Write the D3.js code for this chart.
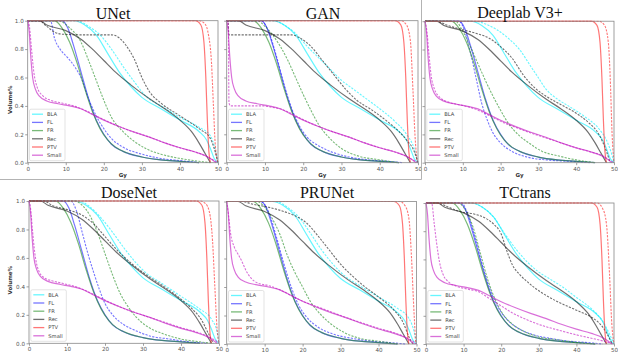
<!DOCTYPE html>
<html>
<head>
<meta charset="utf-8">
<script src="https://cdn.jsdelivr.net/npm/d3@7"></script>
<style>
  body { margin: 0; background: #fff; }
  svg { display: block; }
</style>
</head>
<body>
<script>
// DVH curves: [dose Gy, volume fraction]
const models = ["UNet", "GAN", "Deeplab V3+", "DoseNet", "PRUNet", "TCtrans"];
const structures = ["BLA", "FL", "FR", "Rec", "PTV", "Small"];
const xTicks = [0, 10, 20, 30, 40, 50];
const yTicks = [0.0, 0.2, 0.4, 0.6, 0.8, 1.0];

// ground truth (solid), same order as structures
const gtBLA = [[0,1],[12,1],[15,0.97],[18,0.9],[21,0.77],[24,0.64],[27,0.54],[30,0.46],[35,0.38],[40,0.3],[45,0.22],[47,0.16],[48,0.1],[49,0.03],[50,0]];
const gtFL = [[0,1],[9,1],[10.5,0.95],[12,0.83],[14,0.64],[16,0.45],[18,0.3],[20,0.2],[22,0.13],[25,0.08],[30,0.04],[35,0.02],[40,0.01],[45,0]];
const gtFR = [[0,1],[7,1],[9,0.95],[11,0.85],[13,0.7],[15,0.52],[17,0.36],[19,0.24],[21,0.16],[23,0.11],[26,0.07],[30,0.04],[35,0.02],[40,0.01],[45,0]];
const gtRec = [[0,1],[3,1],[5,0.97],[10,0.93],[14,0.87],[17,0.8],[20,0.72],[23,0.64],[27,0.55],[32,0.45],[36,0.38],[40,0.3],[43,0.22],[45,0.14],[46.5,0.07],[48,0]];
const gtPTV = [[0,1],[44,1],[45.5,0.97],[46.3,0.85],[46.8,0.6],[47.2,0.3],[47.6,0.08],[48,0]];
const gtSmall = [[0,1],[0.4,0.92],[0.8,0.75],[1.3,0.6],[2,0.52],[3,0.47],[5,0.435],[8,0.415],[11,0.4],[14,0.38],[17,0.34],[20,0.3],[24,0.255],[28,0.215],[32,0.18],[36,0.14],[40,0.105],[44,0.075],[47,0.045],[48.5,0.02],[49.5,0]];
const truth = [gtBLA, gtFL, gtFR, gtRec, gtPTV, gtSmall];

// predictions (dashed), one list per model, same order as structures
const predUNet = [
  [[0,1],[13,1],[16,0.96],[19,0.9],[22,0.8],[25,0.68],[28,0.57],[31,0.47],[35,0.4],[40,0.32],[45,0.25],[48,0.19],[49,0.12],[50,0]],
  [[0,1],[6,1],[7,0.88],[8.5,0.8],[10.5,0.74],[12.5,0.67],[14,0.6],[16,0.45],[18,0.33],[20,0.24],[22,0.17],[25,0.11],[30,0.06],[35,0.03],[40,0.015],[45,0]],
  [[0,1],[8,1],[11,0.95],[14,0.85],[16,0.72],[18,0.58],[20,0.44],[22,0.32],[25,0.22],[28,0.15],[31,0.1],[35,0.06],[40,0.03],[45,0.01],[48,0]],
  [[0,1],[3,1],[5,0.96],[7,0.92],[9,0.905],[15,0.9],[22,0.9],[24,0.88],[26,0.82],[28,0.73],[30,0.6],[32,0.5],[35,0.42],[40,0.33],[45,0.24],[48,0.17],[49,0.1],[50,0]],
  [[0,1],[45,1],[46.5,0.98],[47.5,0.9],[48.3,0.7],[48.8,0.4],[49.3,0.12],[50,0]],
  [[0,1],[0.5,0.95],[1,0.8],[1.6,0.64],[2.5,0.53],[4,0.47],[6,0.44],[9,0.42],[12,0.4],[15,0.37],[18,0.33],[21,0.29],[24,0.255],[28,0.215],[32,0.18],[36,0.14],[40,0.105],[44,0.075],[47,0.045],[49,0.015],[50,0]]
];
const predGAN = [
  [[0,1],[12,1],[15,0.97],[18,0.91],[21,0.82],[24,0.74],[27,0.66],[30,0.58],[33,0.52],[36,0.46],[40,0.38],[44,0.29],[47,0.2],[49,0.1],[50,0]],
  [[0,1],[9,1],[11,0.92],[13,0.75],[15,0.55],[17,0.38],[19,0.26],[21,0.18],[24,0.12],[28,0.07],[32,0.04],[37,0.02],[42,0.01],[46,0]],
  [[0,1],[8,1],[10,0.96],[12,0.9],[14,0.82],[16,0.72],[18,0.6],[20,0.48],[22,0.37],[24,0.27],[27,0.17],[30,0.1],[34,0.05],[40,0.02],[45,0]],
  [[0,1],[0.3,1],[0.6,0.9],[10,0.9],[17,0.9],[19,0.88],[22,0.82],[25,0.72],[28,0.62],[31,0.52],[34,0.44],[38,0.37],[42,0.29],[45,0.22],[47,0.16],[49,0.08],[50,0]],
  [[0,1],[45.5,1],[47,0.97],[48,0.86],[48.7,0.5],[49.2,0.2],[49.8,0]],
  [[0,1],[0.4,1],[0.6,0.42],[1,0.4],[9,0.4],[12,0.39],[15,0.37],[18,0.33],[21,0.29],[24,0.255],[28,0.215],[32,0.18],[36,0.14],[40,0.105],[44,0.075],[47,0.045],[49,0.015],[50,0]]
];
const predDeeplab = [
  [[0,1],[13,1],[16,0.98],[19,0.94],[22,0.88],[25,0.8],[28,0.68],[30,0.6],[32,0.52],[35,0.45],[38,0.4],[42,0.33],[46,0.24],[48,0.16],[49.5,0.05],[50,0]],
  [[0,1],[9,1],[10.5,0.93],[12,0.78],[13.5,0.6],[15,0.42],[16.5,0.3],[18,0.21],[20,0.14],[23,0.08],[27,0.04],[32,0.02],[38,0.01],[44,0]],
  [[0,1],[8,1],[10,0.93],[12,0.82],[14,0.7],[16,0.58],[18,0.47],[20,0.37],[22,0.28],[25,0.19],[28,0.13],[31,0.08],[35,0.05],[40,0.02],[45,0]],
  [[0,1],[3,1],[6,0.97],[10,0.94],[14,0.91],[17,0.88],[20,0.82],[23,0.74],[26,0.62],[29,0.53],[32,0.47],[36,0.41],[40,0.35],[43,0.29],[46,0.2],[48,0.08],[49,0]],
  [[0,1],[46,1],[47.5,0.97],[48.5,0.85],[49,0.6],[49.5,0.2],[50,0]],
  [[0,1],[0.5,0.93],[1,0.78],[1.6,0.62],[2.5,0.52],[4,0.46],[6,0.43],[9,0.41],[12,0.39],[15,0.36],[18,0.32],[21,0.28],[24,0.25],[28,0.21],[32,0.175],[36,0.14],[40,0.105],[44,0.075],[47,0.05],[49,0.015],[50,0]]
];
const predDoseNet = [
  [[0,1],[13,1],[16,0.96],[19,0.88],[22,0.78],[25,0.67],[28,0.57],[31,0.49],[35,0.42],[40,0.33],[45,0.24],[48,0.17],[49.5,0.08],[50,0]],
  [[0,1],[11,1],[12.5,0.93],[14,0.78],[15.5,0.63],[17,0.5],[18.5,0.38],[20,0.28],[22,0.2],[25,0.13],[28,0.09],[32,0.05],[37,0.03],[42,0.01],[47,0]],
  [[0,1],[12,1],[14,0.97],[16,0.9],[18,0.78],[20,0.63],[22,0.48],[24,0.35],[26,0.26],[28,0.19],[31,0.12],[35,0.07],[40,0.03],[45,0.01],[48,0]],
  [[0,1],[4,1],[6,0.97],[10,0.94],[14,0.9],[17,0.84],[20,0.75],[23,0.66],[27,0.56],[32,0.46],[36,0.39],[40,0.31],[43,0.24],[45.5,0.16],[47,0.08],[48.5,0]],
  [[0,1],[45,1],[46.5,0.98],[47.5,0.92],[48.3,0.72],[48.9,0.4],[49.5,0.1],[50,0]],
  [[0,1],[0.4,0.95],[0.9,0.8],[1.5,0.64],[2.4,0.52],[4,0.46],[6,0.44],[9,0.42],[12,0.4],[15,0.37],[18,0.33],[21,0.29],[24,0.255],[28,0.215],[32,0.18],[36,0.145],[40,0.11],[44,0.08],[47,0.05],[49,0.02],[50,0]]
];
const predPRUNet = [
  [[0,1],[13,1],[16,0.96],[19,0.89],[22,0.78],[25,0.66],[28,0.56],[31,0.48],[35,0.41],[40,0.33],[45,0.25],[48,0.18],[49.5,0.07],[50,0]],
  [[0,1],[9,1],[11,0.93],[13,0.76],[15,0.57],[17,0.4],[19,0.27],[21,0.19],[24,0.12],[28,0.07],[33,0.04],[38,0.02],[43,0.01],[47,0]],
  [[0,1],[8,1],[10,0.96],[12,0.88],[14,0.77],[16,0.62],[18,0.5],[20,0.4],[22,0.3],[25,0.2],[28,0.13],[31,0.08],[35,0.04],[40,0.02],[45,0]],
  [[0,1],[4,1],[7,0.98],[11,0.96],[15,0.93],[18,0.9],[21,0.85],[24,0.76],[27,0.66],[30,0.56],[33,0.48],[36,0.41],[40,0.33],[44,0.24],[46.5,0.15],[48,0.05],[49,0]],
  [[0,1],[45.5,1],[47,0.97],[48,0.88],[48.7,0.6],[49.2,0.3],[49.8,0]],
  [[0,1],[0.5,0.9],[1,0.78],[2,0.68],[3,0.63],[4,0.58],[5,0.52],[6.5,0.46],[8,0.43],[11,0.41],[14,0.38],[17,0.34],[20,0.3],[24,0.26],[28,0.22],[32,0.18],[36,0.145],[40,0.11],[44,0.08],[47,0.05],[49,0.02],[50,0]]
];
const predTCtrans = [
  [[0,1],[12,1],[15,0.97],[18,0.9],[21,0.78],[24,0.67],[27,0.58],[30,0.51],[33,0.46],[36,0.41],[40,0.33],[44,0.25],[47,0.16],[49,0.06],[50,0]],
  [[0,1],[9.5,1],[11,0.93],[13,0.76],[15,0.56],[17,0.39],[19,0.27],[21,0.19],[24,0.12],[28,0.07],[33,0.04],[38,0.02],[43,0.01],[47,0]],
  [[0,1],[8.5,1],[10.5,0.95],[12.5,0.83],[14.5,0.64],[16.5,0.45],[18.5,0.31],[20.5,0.21],[23,0.14],[26,0.09],[30,0.05],[35,0.03],[40,0.01],[45,0]],
  [[0,1],[3,1],[6,0.97],[9,0.94],[13,0.92],[16,0.89],[18,0.85],[20,0.78],[21.5,0.66],[23,0.56],[25,0.49],[27,0.44],[31,0.36],[35,0.3],[40,0.24],[44,0.19],[46,0.15],[48,0.08],[49.5,0]],
  [[0,1],[45.5,1],[47,0.96],[48,0.85],[48.8,0.5],[49.4,0.15],[50,0]],
  [[0,1],[1.5,1],[2.2,0.85],[2.8,0.72],[3.6,0.58],[4.6,0.49],[6,0.44],[8,0.41],[11,0.39],[14,0.37],[17,0.32],[20,0.27],[23,0.22],[27,0.17],[31,0.13],[35,0.1],[40,0.065],[45,0.035],[48,0.015],[50,0]]
];
const predictions = [predUNet, predGAN, predDeeplab, predDoseNet, predPRUNet, predTCtrans];

// layout of the six plot areas (bottom row's x-axis title falls below the picture)
const frames = [
  { left: 27.7, right: 218, top: 20.7, bottom: 162.7, yLabels: true, xTitle: true, tx: 113, ty: 18.5 },
  { left: 226.7, right: 418, top: 20.7, bottom: 162.7, yLabels: false, xTitle: true, tx: 323, ty: 18.5 },
  { left: 425, right: 614, top: 21.2, bottom: 162.7, yLabels: false, xTitle: true, tx: 520, ty: 18 },
  { left: 29, right: 219, top: 201, bottom: 343.3, yLabels: true, xTitle: false, tx: 129, ty: 198.3 },
  { left: 226.7, right: 416.5, top: 201.5, bottom: 344, yLabels: false, xTitle: false, tx: 327, ty: 198.3 },
  { left: 426, right: 614, top: 203, bottom: 344, yLabels: false, xTitle: false, tx: 525, ty: 198.3 }
];

const color = d3.scaleOrdinal()
  .domain(structures)
  .range(["#00f0ff", "#1a1aff", "#1f8c1f", "#111111", "#ff1a1a", "#c010c0"]);

const W = 618, H = 354;
const svg = d3.select("body").append("svg")
  .attr("width", W)
  .attr("height", H)
  .style("font-family", "'DejaVu Sans', sans-serif");

svg.append("rect").attr("width", W).attr("height", H).attr("fill", "#fff");

models.forEach((name, i) => {
  const f = frames[i];
  const x = d3.scaleLinear().domain([0, 50]).range([f.left, f.right]);
  const y = d3.scaleLinear().domain([0, 1]).range([f.bottom, f.top]);
  const g = svg.append("g");

  g.append("clipPath").attr("id", "clip" + i)
    .append("rect")
    .attr("x", f.left - 1).attr("y", f.top - 1)
    .attr("width", f.right - f.left + 2).attr("height", f.bottom - f.top + 2);

  // axes
  const xAxis = g.append("g")
    .attr("transform", `translate(0,${f.bottom})`)
    .call(d3.axisBottom(x).tickValues(xTicks).tickSize(2.5).tickPadding(1.5).tickFormat(d3.format("d")));
  const yAxis = g.append("g")
    .attr("transform", `translate(${f.left},0)`)
    .call(d3.axisLeft(y).tickValues(yTicks).tickSize(2.5).tickPadding(1.5)
      .tickFormat(f.yLabels ? d3.format(".1f") : () => ""));
  [xAxis, yAxis].forEach(a => {
    a.select(".domain").remove();
    a.selectAll("line").attr("stroke", "#777").attr("stroke-width", 0.7);
    a.selectAll("text").attr("fill", "#555").style("font-size", "5.6px").style("font-family", "'DejaVu Sans', sans-serif");
  });

  const line = d3.line()
    .x(d => x(d[0]))
    .y(d => y(d[1]))
    .curve(d3.curveMonotoneX);

  const plot = g.append("g").attr("clip-path", `url(#clip${i})`);

  structures.forEach((s, k) => {
    plot.append("path")
      .attr("d", line(truth[k]))
      .attr("fill", "none")
      .attr("stroke", color(s))
      .attr("stroke-opacity", 0.6)
      .attr("stroke-width", 1.2);
    plot.append("path")
      .attr("d", line(predictions[i][k]))
      .attr("fill", "none")
      .attr("stroke", color(s))
      .attr("stroke-opacity", 0.6)
      .attr("stroke-width", 1.1)
      .attr("stroke-dasharray", "2.2,1.3");
  });

  // frame
  g.append("rect")
    .attr("x", f.left).attr("y", f.top)
    .attr("width", f.right - f.left).attr("height", f.bottom - f.top)
    .attr("fill", "none")
    .attr("stroke", "#888")
    .attr("stroke-width", 0.8);

  // legend
  const lg = g.append("g").attr("transform", `translate(${f.left + 1.8},${f.bottom - 53.5})`);
  lg.append("rect")
    .attr("width", 35.5).attr("height", 51.5).attr("rx", 1.5)
    .attr("fill", "#fff").attr("fill-opacity", 0.85)
    .attr("stroke", "#d0d0d0").attr("stroke-width", 0.6);
  structures.forEach((s, k) => {
    const ly = 5 + k * 8.2;
    lg.append("line")
      .attr("x1", 2.5).attr("x2", 13.5).attr("y1", ly).attr("y2", ly)
      .attr("stroke", color(s)).attr("stroke-opacity", 0.6).attr("stroke-width", 1.3);
    lg.append("text")
      .attr("x", 17.5).attr("y", ly + 1.8)
      .attr("fill", "#444")
      .style("font-size", "5.2px")
      .text(s);
  });

  // titles
  svg.append("text")
    .attr("x", f.tx).attr("y", f.ty)
    .attr("text-anchor", "middle")
    .style("font-family", "'Liberation Serif', 'Times New Roman', serif")
    .style("font-size", "16px")
    .attr("fill", "#111")
    .text(name);

  // axis titles
  if (f.xTitle) {
    svg.append("text")
      .attr("x", (f.left + f.right) / 2).attr("y", f.bottom + 14.3)
      .attr("text-anchor", "middle")
      .style("font-size", "5.5px").style("font-weight", "bold")
      .attr("fill", "#333")
      .text("Gy");
  }
  if (f.yLabels) {
    svg.append("text")
      .attr("transform", `translate(12,${(f.top + f.bottom) / 2 + 8}) rotate(-90)`)
      .attr("text-anchor", "middle")
      .style("font-size", "5.5px").style("font-weight", "bold")
      .attr("fill", "#333")
      .text("Volume%");
  }
});

// separator lines of the composite
svg.append("line")
  .attr("x1", 421.5).attr("x2", 421.5).attr("y1", 0).attr("y2", 179.5)
  .attr("stroke", "#aaa").attr("stroke-width", 0.9);
svg.append("line")
  .attr("x1", 0).attr("x2", 421.5).attr("y1", 179.5).attr("y2", 179.5)
  .attr("stroke", "#aaa").attr("stroke-width", 0.9);
</script>
</body>
</html>
